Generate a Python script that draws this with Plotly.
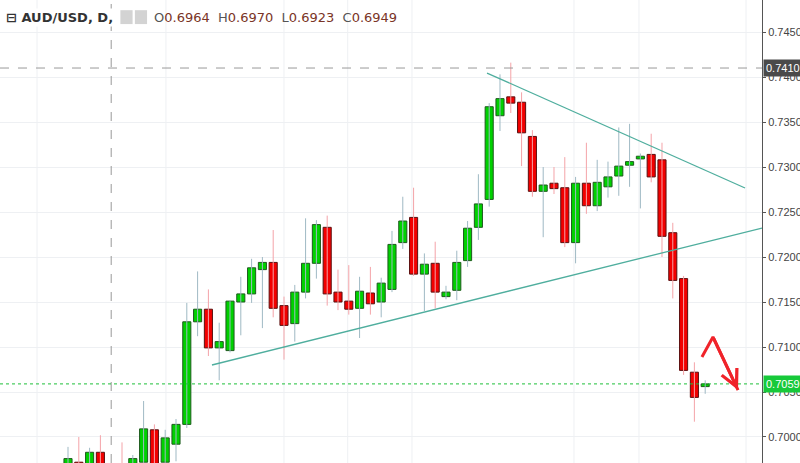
import plotly.graph_objects as go

opens  = [0.6968,0.6972,0.6965,0.6983,0.6964,0.6955,0.6945,0.6972,0.7008,0.6972,0.6992,0.7014,0.7128,0.7142,0.7099,0.7096,0.7150,0.7159,0.7186,0.7194,
          0.7146,0.7126,0.7161,0.7193,0.7233,0.7161,0.7151,0.7143,0.7160,0.7150,0.7164,0.7216,0.7244,0.7181,0.7193,0.7156,0.7163,0.7196,0.7233,0.7264,
          0.7357,0.7378,0.7372,0.7334,0.7273,0.7282,0.7277,0.7216,0.7282,0.7257,0.7278,0.7290,0.7302,0.7309,0.7314,0.7308,0.7227,0.7176,0.7072,0.7056]
highs  = [0.6989,0.7000,0.6988,0.7002,0.6970,0.6994,0.6980,0.7040,0.7014,0.7008,0.7020,0.7149,0.7184,0.7164,0.7127,0.7151,0.7178,0.7198,0.7200,0.7230,
          0.7156,0.7169,0.7243,0.7241,0.7246,0.7186,0.7191,0.7178,0.7189,0.7177,0.7229,0.7267,0.7277,0.7204,0.7217,0.7168,0.7207,0.7240,0.7292,0.7371,
          0.7403,0.7416,0.7383,0.7341,0.7300,0.7300,0.7311,0.7289,0.7327,0.7308,0.7306,0.7344,0.7348,0.7315,0.7337,0.7327,0.7238,0.7179,0.7083,0.7063]
lows   = [0.6960,0.6955,0.6960,0.6958,0.6923,0.6930,0.6935,0.6965,0.6955,0.6965,0.6973,0.7010,0.7112,0.7090,0.7063,0.7094,0.7113,0.7149,0.7121,0.7133,
          0.7086,0.7106,0.7154,0.7176,0.7146,0.7141,0.7136,0.7110,0.7136,0.7133,0.7161,0.7209,0.7179,0.7140,0.7143,0.7153,0.7152,0.7189,0.7219,0.7256,
          0.7340,0.7360,0.7301,0.7267,0.7222,0.7270,0.7211,0.7193,0.7248,0.7251,0.7266,0.7268,0.7278,0.7254,0.7283,0.7200,0.7154,0.7069,0.7017,0.7048]
closes = [0.6976,0.6962,0.6983,0.6965,0.6949,0.6940,0.6976,0.7009,0.6968,0.6999,0.7014,0.7128,0.7142,0.7099,0.7106,0.7151,0.7159,0.7188,0.7194,0.7143,
          0.7124,0.7161,0.7193,0.7236,0.7159,0.7150,0.7142,0.7162,0.7148,0.7171,0.7214,0.7240,0.7181,0.7192,0.7161,0.7161,0.7194,0.7232,0.7259,0.7367,
          0.7376,0.7371,0.7338,0.7273,0.7280,0.7276,0.7216,0.7282,0.7257,0.7283,0.7289,0.7301,0.7306,0.7312,0.7289,0.7223,0.7174,0.7074,0.7044,0.7059]

y_ticks = [0.7000,0.7050,0.7100,0.7150,0.7200,0.7250,0.7300,0.7350,0.7400,0.7450]
grid_x = [-2.87,9.07,19.998,25.9,31.85,46.85,52.87,62.78]
support_line = ([13.33,64.26],[0.7080,0.72322])
resist_line = ([38.8,62.69],[0.74044,0.72767])
arrow_pts = ([58.7,59.72,62.04],[0.70889,0.71111,0.70522])
last_price = 0.7059
marked_price = 0.7410
cursor_idx = 4

FONT = "Liberation Sans"
idx = list(range(len(opens)))
fig = go.Figure()

for up, col in [(True,"#9fb9c4"),(False,"#f4a3a8")]:
    xs, ys = [], []
    for i in idx:
        if (closes[i] >= opens[i]) == up:
            xs += [i, i, None]; ys += [lows[i], highs[i], None]
    fig.add_trace(go.Scatter(x=xs, y=ys, mode="lines", line=dict(color=col, width=1), hoverinfo="skip", showlegend=False))

for up, fill, edge in [(True,"#00d100","#1e5a1e"),(False,"#f20000","#5a1010")]:
    bx = [i for i in idx if (closes[i] >= opens[i]) == up]
    base = [min(opens[i], closes[i]) for i in bx]
    h = [max(abs(closes[i]-opens[i]), 0.00025) for i in bx]
    fig.add_trace(go.Bar(x=bx, y=h, base=base, width=0.75, marker=dict(color=fill, line=dict(color=edge, width=1)),
                         hoverinfo="skip", showlegend=False))

fig.add_trace(go.Scatter(x=support_line[0], y=support_line[1], mode="lines", line=dict(color="#4fae9e", width=1.3), showlegend=False))
fig.add_trace(go.Scatter(x=resist_line[0], y=resist_line[1], mode="lines", line=dict(color="#4fae9e", width=1.3), showlegend=False))
fig.add_trace(go.Scatter(x=arrow_pts[0], y=arrow_pts[1], mode="lines", line=dict(color="#f0232a", width=3), showlegend=False))
fig.add_annotation(x=arrow_pts[0][2], y=arrow_pts[1][2], ax=arrow_pts[0][1], ay=arrow_pts[1][1], xref="x", yref="y",
                   axref="x", ayref="y", showarrow=True, arrowhead=5, arrowsize=1.1, arrowwidth=3, arrowcolor="#f0232a", text="")

for gx in grid_x:
    fig.add_shape(type="line", x0=gx, x1=gx, y0=0, y1=1, yref="paper", line=dict(color="#eef0f3", width=1), layer="below")
fig.add_shape(type="line", x0=cursor_idx, x1=cursor_idx, y0=0, y1=1, yref="paper", line=dict(color="#999", width=1, dash="dash"))
fig.add_shape(type="line", x0=0, x1=1, xref="paper", y0=marked_price, y1=marked_price, line=dict(color="#999", width=1, dash="dash"))
fig.add_shape(type="line", x0=0, x1=1, xref="paper", y0=last_price, y1=last_price, line=dict(color="#1fbf3a", width=1, dash="dot"))

fig.add_annotation(x=1, xref="paper", y=last_price, yref="y", text=f"{last_price:.4f}", showarrow=False, xanchor="left", xshift=1,
                   bgcolor="#17c93a", font=dict(color="white", size=11, family=FONT), borderpad=2)
fig.add_annotation(x=1, xref="paper", y=marked_price, yref="y", text=f"{marked_price:.4f}", showarrow=False, xanchor="left", xshift=1,
                   bgcolor="#4a4a4a", font=dict(color="white", size=11, family=FONT), borderpad=2)

fig.add_annotation(x=0.005, y=0.963, xref="paper", yref="paper", xanchor="left", yanchor="middle", showarrow=False,
                   text="<b>⊟ AUD/USD, D,</b>", font=dict(size=13, color="#333", family="DejaVu Sans"), bgcolor="white")
fig.add_shape(type="rect", xref="paper", yref="paper", x0=0.158, x1=0.174, y0=0.948, y1=0.978, fillcolor="#d3d3d3", line_width=0)
fig.add_shape(type="rect", xref="paper", yref="paper", x0=0.177, x1=0.193, y0=0.948, y1=0.978, fillcolor="#d3d3d3", line_width=0)
hdr = ("<span style='color:#555'>O</span>0.6964  <span style='color:#555'>H</span>0.6970  "
       "<span style='color:#555'>L</span>0.6923  <span style='color:#555'>C</span>0.6949")
fig.add_annotation(x=0.199, y=0.963, xref="paper", yref="paper", xanchor="left", yanchor="middle", showarrow=False,
                   text=hdr, font=dict(size=13, color="#7a3426", family="DejaVu Sans"))

fig.update_layout(width=800, height=463, margin=dict(l=0, r=38, t=0, b=0), plot_bgcolor="white", paper_bgcolor="white",
                  barmode="overlay", showlegend=False,
                  xaxis=dict(range=[-6.296, 64.26], showgrid=False, zeroline=False, showticklabels=False, fixedrange=True),
                  yaxis=dict(range=[0.69711, 0.74856], side="right", tickvals=y_ticks, ticktext=[f"{v:.4f}" for v in y_ticks],
                             gridcolor="#eef0f3", zeroline=False, showline=True, linecolor="#555", ticks="outside", ticklen=3,
                             tickcolor="#555", automargin=False, tickfont=dict(size=11, color="#444", family=FONT)))
fig.write_html("out.html", config={"displayModeBar": False}, post_script="document.body.style.margin='0';")
